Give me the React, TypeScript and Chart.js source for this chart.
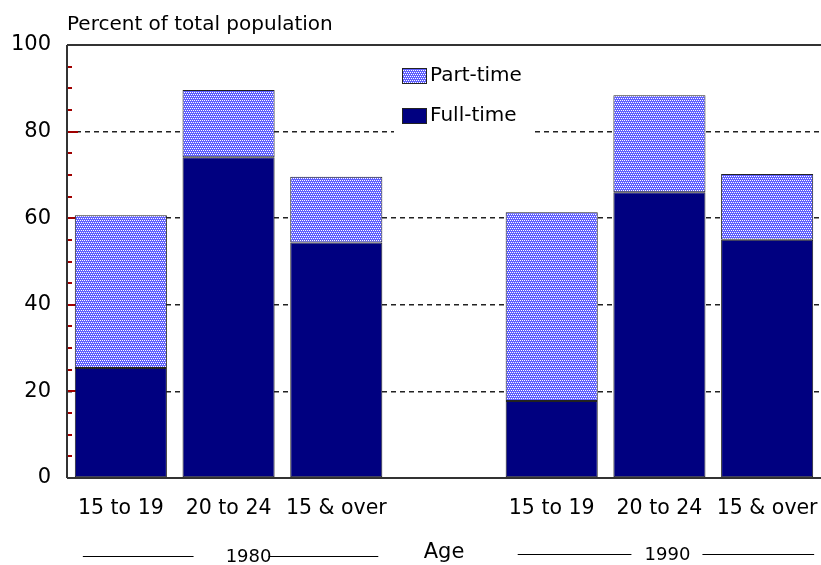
import React, { useEffect, useRef } from "react";
import { Chart, registerables } from "chart.js";
Chart.register(...registerables);

const categories = ["15 to 19", "20 to 24", "15 & over", "", "15 to 19", "20 to 24", "15 & over"];
const fullTime = [25.4, 74.1, 54.4, null, 17.8, 66.0, 55.0];
const partTime = [35.3, 15.5, 15.2, null, 43.6, 22.4, 15.2];
const yTickValues = [0, 20, 40, 60, 80, 100];
const minorTickStep = 5;
const yTitle = "Percent of total population";
const xTitle = "Age";
const groupLabels = ["1980", "1990"];
const seriesNames = ["Part-time", "Full-time"];

const FONT = "'DejaVu Sans', sans-serif";
const NAVY = "#000080";

function makePattern(): CanvasPattern | string {
  const c = document.createElement("canvas");
  c.width = 4;
  c.height = 4;
  const g = c.getContext("2d");
  if (!g) return "#7b7bff";
  g.fillStyle = "rgb(95,95,255)";
  g.fillRect(0, 0, 4, 4);
  g.fillStyle = "rgb(255,255,255)";
  g.fillRect(0, 0, 1, 1);
  g.fillRect(2, 0, 1, 1);
  g.fillRect(1, 2, 1, 1);
  g.fillRect(3, 2, 1, 1);
  const p = g.createPattern(c, "repeat");
  return p || "#7b7bff";
}

export default function App() {
  const ref = useRef<HTMLCanvasElement | null>(null);
  useEffect(() => {
    if (!ref.current) return;
    const pattern = makePattern();
    const decor = {
      id: "decor",
      beforeDatasetsDraw(chart: any) {
        const { ctx, chartArea: a, scales } = chart;
        const y = scales.y;
        ctx.save();
        ctx.strokeStyle = "#a00000";
        ctx.lineWidth = 2;
        for (let v = minorTickStep; v < 100; v += minorTickStep) {
          const py = Math.round(y.getPixelForValue(v));
          const len = v % 20 === 0 ? 11 : 5;
          ctx.beginPath();
          ctx.moveTo(a.left, py);
          ctx.lineTo(a.left + len, py);
          ctx.stroke();
        }
        ctx.restore();
      },
      afterDatasetsDraw(chart: any) {
        const { ctx, chartArea: a, scales } = chart;
        const y = scales.y;
        const x = scales.x;
        ctx.save();
        ctx.strokeStyle = "#333";
        ctx.lineWidth = 2;
        const yTop = Math.round(y.getPixelForValue(100));
        const yBot = Math.round(y.getPixelForValue(0));
        ctx.beginPath();
        ctx.moveTo(a.left, yTop);
        ctx.lineTo(a.right, yTop);
        ctx.moveTo(a.left, yBot);
        ctx.lineTo(a.right, yBot);
        ctx.moveTo(a.left, yTop);
        ctx.lineTo(a.left, yBot);
        ctx.stroke();

        ctx.fillStyle = "#000";
        ctx.font = `20px ${FONT}`;
        ctx.textAlign = "left";
        ctx.textBaseline = "alphabetic";
        ctx.fillText(yTitle, a.left, 30);

        const lx = 402;
        ctx.fillStyle = "#fff";
        ctx.fillRect(394, 60, 140, 76);
        const items = [
          { name: seriesNames[0], fill: pattern, yc: 76 },
          { name: seriesNames[1], fill: NAVY, yc: 116 },
        ];
        ctx.font = `20px ${FONT}`;
        ctx.textBaseline = "middle";
        for (const it of items) {
          ctx.fillStyle = it.fill as any;
          ctx.fillRect(lx, it.yc - 8, 25, 16);
          ctx.strokeStyle = "#222";
          ctx.lineWidth = 1;
          ctx.strokeRect(lx + 0.5, it.yc - 7.5, 24, 15);
          ctx.fillStyle = "#000";
          ctx.fillText(it.name, lx + 28, it.yc);
        }

        const ly = 556;
        ctx.strokeStyle = "#000";
        ctx.lineWidth = 1;
        const p0 = x.getPixelForValue(0);
        const p1 = x.getPixelForValue(1);
        const p2 = x.getPixelForValue(2);
        const p4 = x.getPixelForValue(4);
        const p5 = x.getPixelForValue(5);
        const p6 = x.getPixelForValue(6);
        ctx.beginPath();
        ctx.moveTo(p0 - 38, ly + 0.5);
        ctx.lineTo(p1 - 35, ly + 0.5);
        ctx.moveTo(p1 + 40, ly + 0.5);
        ctx.lineTo(p2 + 42, ly + 0.5);
        ctx.moveTo(p4 - 34, ly - 1.5);
        ctx.lineTo(p5 - 28, ly - 1.5);
        ctx.moveTo(p5 + 43, ly - 1.5);
        ctx.lineTo(p6 + 47, ly - 1.5);
        ctx.stroke();
        ctx.fillStyle = "#000";
        ctx.font = `18px ${FONT}`;
        ctx.textAlign = "center";
        ctx.textBaseline = "middle";
        ctx.fillText(groupLabels[0], p1 + 20, ly + 1);
        ctx.fillText(groupLabels[1], p5 + 8, ly - 1);
        ctx.font = `21px ${FONT}`;
        ctx.fillText(xTitle, x.getPixelForValue(3), 553);
        ctx.restore();
      },
    };

    const chart = new Chart(ref.current, {
      type: "bar",
      data: {
        labels: categories,
        datasets: [
          {
            label: seriesNames[1],
            data: fullTime as any,
            backgroundColor: NAVY,
            borderColor: "#222",
            borderWidth: 1,
            borderSkipped: false,
            barPercentage: 0.855,
            categoryPercentage: 1,
          },
          {
            label: seriesNames[0],
            data: partTime as any,
            backgroundColor: pattern as any,
            borderColor: "#222",
            borderWidth: 1,
            borderSkipped: false,
            barPercentage: 0.855,
            categoryPercentage: 1,
          },
        ],
      },
      options: {
        responsive: false,
        animation: false,
        devicePixelRatio: 1,
        layout: { padding: { top: 45, left: 0, right: 0, bottom: 0 } },
        plugins: { legend: { display: false }, tooltip: { enabled: false }, title: { display: false } },
        scales: {
          x: {
            stacked: true,
            offset: true,
            grid: { display: false, drawTicks: false },
            border: { display: false },
            ticks: { color: "#000", font: { family: FONT, size: 20.5 }, padding: 18, maxRotation: 0, autoSkip: false },
            afterFit: (s: any) => { s.height = 87; s.paddingLeft = 0; s.paddingRight = 0; },
          },
          y: {
            stacked: true,
            min: 0,
            max: 100,
            afterBuildTicks: (s: any) => { s.ticks = yTickValues.map((v) => ({ value: v })); },
            grid: {
              drawTicks: false,
              lineWidth: 1.5,
              color: (c: any) => (c.tick && (c.tick.value === 0 || c.tick.value === 100) ? "rgba(0,0,0,0)" : "#222"),
            },
            border: { display: false, dash: [5, 4] },
            ticks: { color: "#000", font: { family: FONT, size: 21 }, padding: 16 },
            afterFit: (s: any) => { s.width = 67; s.paddingTop = 0; s.paddingBottom = 0; },
          },
        },
      },
      plugins: [decor],
    });
    return () => chart.destroy();
  }, []);
  return (
    <div style={{ position: "absolute", left: 0, top: 0, width: 821, height: 565, background: "#fff" }}>
      <canvas ref={ref} width={821} height={565} />
    </div>
  );
}
